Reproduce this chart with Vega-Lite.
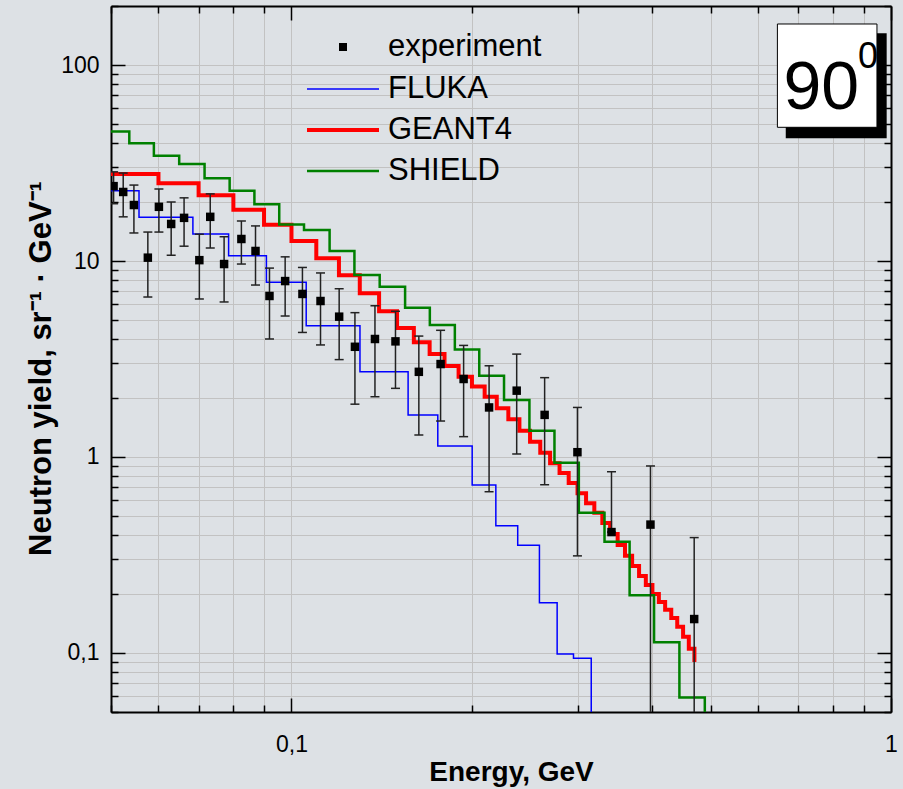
{
  "$schema": "https://vega.github.io/schema/vega-lite/v6.json",
  "width": 780,
  "height": 706,
  "autosize": {"type": "none"},
  "padding": {"left": 111, "top": 6, "right": 12, "bottom": 77},
  "background": "#dde1e5",
  "config": {
    "view": {"stroke": null},
    "font": "Liberation Sans"
  },
  "datasets": {
    "experiment": [
      {"series": "experiment", "E": 0.0505, "y": 24.1, "lo": 19.6, "hi": 28.5},
      {"series": "experiment", "E": 0.0524, "y": 22.5, "lo": 16.8, "hi": 28.1},
      {"series": "experiment", "E": 0.0546, "y": 19.3, "lo": 13.9, "hi": 24.4},
      {"series": "experiment", "E": 0.0576, "y": 10.4, "lo": 6.55, "hi": 14.05},
      {"series": "experiment", "E": 0.0601, "y": 18.9, "lo": 14.05, "hi": 23.3},
      {"series": "experiment", "E": 0.063, "y": 15.45, "lo": 10.7, "hi": 20.0},
      {"series": "experiment", "E": 0.0662, "y": 16.6, "lo": 11.9, "hi": 21.0},
      {"series": "experiment", "E": 0.0702, "y": 10.1, "lo": 6.4, "hi": 13.7},
      {"series": "experiment", "E": 0.0732, "y": 16.8, "lo": 11.65, "hi": 22.0},
      {"series": "experiment", "E": 0.0772, "y": 9.65, "lo": 6.18, "hi": 13.3},
      {"series": "experiment", "E": 0.0825, "y": 12.95, "lo": 9.65, "hi": 16.0},
      {"series": "experiment", "E": 0.0871, "y": 11.25, "lo": 7.54, "hi": 15.1},
      {"series": "experiment", "E": 0.0919, "y": 6.63, "lo": 4.0, "hi": 9.2},
      {"series": "experiment", "E": 0.0976, "y": 7.9, "lo": 5.24, "hi": 10.5},
      {"series": "experiment", "E": 0.1043, "y": 6.79, "lo": 4.32, "hi": 9.27},
      {"series": "experiment", "E": 0.1118, "y": 6.25, "lo": 3.73, "hi": 8.69},
      {"series": "experiment", "E": 0.1201, "y": 5.2, "lo": 3.14, "hi": 7.22},
      {"series": "experiment", "E": 0.1276, "y": 3.65, "lo": 1.86, "hi": 5.45},
      {"series": "experiment", "E": 0.1378, "y": 4.0, "lo": 2.03, "hi": 5.91},
      {"series": "experiment", "E": 0.1491, "y": 3.89, "lo": 2.24, "hi": 5.54},
      {"series": "experiment", "E": 0.1631, "y": 2.72, "lo": 1.295, "hi": 4.14},
      {"series": "experiment", "E": 0.1773, "y": 2.98, "lo": 1.526, "hi": 4.43},
      {"series": "experiment", "E": 0.1937, "y": 2.5, "lo": 1.27, "hi": 3.71},
      {"series": "experiment", "E": 0.2136, "y": 1.79, "lo": 0.665, "hi": 2.92},
      {"series": "experiment", "E": 0.2375, "y": 2.18, "lo": 1.036, "hi": 3.35},
      {"series": "experiment", "E": 0.2644, "y": 1.64, "lo": 0.722, "hi": 2.54},
      {"series": "experiment", "E": 0.2999, "y": 1.058, "lo": 0.313, "hi": 1.79},
      {"series": "experiment", "E": 0.3418, "y": 0.414, "lo": 0.414, "hi": 0.841},
      {"series": "experiment", "E": 0.397, "y": 0.452, "lo": 0.001, "hi": 0.9},
      {"series": "experiment", "E": 0.4696, "y": 0.149, "lo": 0.001, "hi": 0.388}
    ],
    "models": [
      {"series": "FLUKA", "E": 0.05, "v": 22.84},
      {"series": "FLUKA", "E": 0.05568, "v": 16.71},
      {"series": "FLUKA", "E": 0.06848, "v": 13.73},
      {"series": "FLUKA", "E": 0.07855, "v": 10.64},
      {"series": "FLUKA", "E": 0.09082, "v": 7.78},
      {"series": "FLUKA", "E": 0.10582, "v": 4.68},
      {"series": "FLUKA", "E": 0.13009, "v": 2.72},
      {"series": "FLUKA", "E": 0.15651, "v": 1.638},
      {"series": "FLUKA", "E": 0.17541, "v": 1.138},
      {"series": "FLUKA", "E": 0.20017, "v": 0.7195},
      {"series": "FLUKA", "E": 0.21922, "v": 0.4461},
      {"series": "FLUKA", "E": 0.23843, "v": 0.3543},
      {"series": "FLUKA", "E": 0.25917, "v": 0.1806},
      {"series": "FLUKA", "E": 0.27742, "v": 0.0988},
      {"series": "FLUKA", "E": 0.2954, "v": 0.0939},
      {"series": "FLUKA", "E": 0.31623, "v": 0.001},
      {"series": "GEANT4", "E": 0.05, "v": 27.79},
      {"series": "GEANT4", "E": 0.06, "v": 24.91},
      {"series": "GEANT4", "E": 0.07, "v": 21.64},
      {"series": "GEANT4", "E": 0.08, "v": 18.27},
      {"series": "GEANT4", "E": 0.09, "v": 15.32},
      {"series": "GEANT4", "E": 0.1, "v": 12.65},
      {"series": "GEANT4", "E": 0.11, "v": 10.32},
      {"series": "GEANT4", "E": 0.12, "v": 8.45},
      {"series": "GEANT4", "E": 0.13, "v": 6.84},
      {"series": "GEANT4", "E": 0.14, "v": 5.54},
      {"series": "GEANT4", "E": 0.15, "v": 4.55},
      {"series": "GEANT4", "E": 0.16, "v": 3.85},
      {"series": "GEANT4", "E": 0.17, "v": 3.35},
      {"series": "GEANT4", "E": 0.18, "v": 2.91},
      {"series": "GEANT4", "E": 0.19, "v": 2.57},
      {"series": "GEANT4", "E": 0.2, "v": 2.29},
      {"series": "GEANT4", "E": 0.21, "v": 2.03},
      {"series": "GEANT4", "E": 0.22, "v": 1.772},
      {"series": "GEANT4", "E": 0.23, "v": 1.557},
      {"series": "GEANT4", "E": 0.24, "v": 1.362},
      {"series": "GEANT4", "E": 0.25, "v": 1.197},
      {"series": "GEANT4", "E": 0.26, "v": 1.052},
      {"series": "GEANT4", "E": 0.27, "v": 0.929},
      {"series": "GEANT4", "E": 0.28, "v": 0.829},
      {"series": "GEANT4", "E": 0.29, "v": 0.737},
      {"series": "GEANT4", "E": 0.3, "v": 0.653},
      {"series": "GEANT4", "E": 0.31, "v": 0.58},
      {"series": "GEANT4", "E": 0.32, "v": 0.52},
      {"series": "GEANT4", "E": 0.33, "v": 0.46},
      {"series": "GEANT4", "E": 0.34, "v": 0.405},
      {"series": "GEANT4", "E": 0.35, "v": 0.356},
      {"series": "GEANT4", "E": 0.36, "v": 0.313},
      {"series": "GEANT4", "E": 0.37, "v": 0.278},
      {"series": "GEANT4", "E": 0.38, "v": 0.247},
      {"series": "GEANT4", "E": 0.39, "v": 0.222},
      {"series": "GEANT4", "E": 0.4, "v": 0.2},
      {"series": "GEANT4", "E": 0.41, "v": 0.182},
      {"series": "GEANT4", "E": 0.42, "v": 0.166},
      {"series": "GEANT4", "E": 0.43, "v": 0.151},
      {"series": "GEANT4", "E": 0.44, "v": 0.136},
      {"series": "GEANT4", "E": 0.45, "v": 0.121},
      {"series": "GEANT4", "E": 0.46, "v": 0.105},
      {"series": "GEANT4", "E": 0.47, "v": 0.09},
      {"series": "SHIELD", "E": 0.05, "v": 45.79},
      {"series": "SHIELD", "E": 0.05364, "v": 39.85},
      {"series": "SHIELD", "E": 0.05895, "v": 34.45},
      {"series": "SHIELD", "E": 0.06497, "v": 31.25},
      {"series": "SHIELD", "E": 0.07162, "v": 26.42},
      {"series": "SHIELD", "E": 0.07886, "v": 22.81},
      {"series": "SHIELD", "E": 0.08673, "v": 19.49},
      {"series": "SHIELD", "E": 0.09541, "v": 15.36},
      {"series": "SHIELD", "E": 0.10493, "v": 14.39},
      {"series": "SHIELD", "E": 0.11577, "v": 11.25},
      {"series": "SHIELD", "E": 0.12735, "v": 8.48},
      {"series": "SHIELD", "E": 0.14033, "v": 7.39},
      {"series": "SHIELD", "E": 0.15471, "v": 5.78},
      {"series": "SHIELD", "E": 0.17013, "v": 4.71},
      {"series": "SHIELD", "E": 0.18728, "v": 3.54},
      {"series": "SHIELD", "E": 0.20569, "v": 2.6},
      {"series": "SHIELD", "E": 0.22622, "v": 1.953},
      {"series": "SHIELD", "E": 0.2494, "v": 1.362},
      {"series": "SHIELD", "E": 0.27458, "v": 0.935},
      {"series": "SHIELD", "E": 0.30152, "v": 0.52},
      {"series": "SHIELD", "E": 0.33277, "v": 0.37},
      {"series": "SHIELD", "E": 0.36644, "v": 0.197},
      {"series": "SHIELD", "E": 0.40252, "v": 0.1134},
      {"series": "SHIELD", "E": 0.44367, "v": 0.0593},
      {"series": "SHIELD", "E": 0.48914, "v": 0.001}
    ]
  },
  "layer": [
    {
      "data": {"name": "models"},
      "mark": {"type": "line", "interpolate": "step-after", "clip": true},
      "encoding": {
        "x": {"field": "E", "type": "quantitative", "scale": {"type": "log", "domain": [0.05, 1], "nice": false}, "axis": null},
        "y": {"field": "v", "type": "quantitative", "scale": {"type": "log", "domain": [0.05, 200], "nice": false}, "axis": null},
        "color": {
          "field": "series", "type": "nominal",
          "scale": {"domain": ["FLUKA", "GEANT4", "SHIELD"], "range": ["#0000ff", "#ff0000", "#008000"]},
          "legend": {"orient": "none", "legendX": 194, "legendY": 62.5, "title": null, "symbolType": "stroke", "symbolSize": 5184, "labelFontSize": 31, "labelColor": "black", "labelFont": "Liberation Sans", "clipHeight": 41, "rowPadding": 0, "labelOffset": 7, "padding": 0}
        },
        "strokeWidth": {
          "field": "series", "type": "nominal",
          "scale": {"type": "ordinal", "domain": ["FLUKA", "GEANT4", "SHIELD"], "range": [1.5, 4, 2.5]},
          "legend": {"orient": "none", "legendX": 194, "legendY": 62.5, "title": null, "symbolType": "stroke", "symbolSize": 5184, "labelFontSize": 31, "labelColor": "black", "labelFont": "Liberation Sans", "clipHeight": 41, "rowPadding": 0, "labelOffset": 7, "padding": 0}
        }
      }
    },
    {
      "data": {"name": "experiment"},
      "mark": {"type": "rule", "color": "#222222", "strokeWidth": 1.5, "clip": true},
      "encoding": {
        "x": {
          "field": "E", "type": "quantitative",
          "scale": {"type": "log", "domain": [0.05, 1], "nice": false},
          "axis": {
            "orient": "bottom",
            "values": [0.05, 0.06, 0.07, 0.08, 0.09, 0.1, 0.2, 0.3, 0.4, 0.5, 0.6, 0.7, 0.8, 0.9, 1],
            "labelExpr": "datum.value == 0.1 ? '0,1' : (datum.value == 1 ? '1' : '')",
            "labelFontSize": 23, "labelColor": "black", "labelFlush": false, "labelOverlap": false, "labelPadding": 35,
            "tickSize": {"condition": {"test": "datum.value == 0.1 || datum.value == 1", "value": -14}, "value": -7},
            "tickColor": "black", "tickWidth": 1.5,
            "domainColor": "black", "domainWidth": 2,
            "grid": true, "gridColor": "#c2c2c2", "gridWidth": 1,
            "title": "Energy, GeV", "titleFontSize": 28, "titleFontWeight": "bold", "titleColor": "black", "titlePadding": -5, "titleX": 400
          }
        },
        "y": {
          "field": "lo", "type": "quantitative",
          "scale": {"type": "log", "domain": [0.05, 200], "nice": false},
          "axis": {
            "orient": "left",
            "values": [0.05, 0.06, 0.07, 0.08, 0.09, 0.1, 0.2, 0.3, 0.4, 0.5, 0.6, 0.7, 0.8, 0.9, 1, 2, 3, 4, 5, 6, 7, 8, 9, 10, 20, 30, 40, 50, 60, 70, 80, 90, 100, 200],
            "labelExpr": "datum.value == 100 ? '100' : (datum.value == 10 ? '10' : (datum.value == 1 ? '1' : (datum.value == 0.1 ? '0,1' : '')))",
            "labelFontSize": 23, "labelColor": "black", "labelFlush": false, "labelOverlap": false, "labelPadding": 26,
            "tickSize": {"condition": {"test": "datum.value == 0.1 || datum.value == 1 || datum.value == 10 || datum.value == 100", "value": -14}, "value": -7},
            "tickColor": "black", "tickWidth": 1.5,
            "domainColor": "black", "domainWidth": 2,
            "grid": true, "gridColor": "#c2c2c2", "gridWidth": 1,
            "title": "Neutron yield, sr⁻¹ · GeV⁻¹", "titleFontSize": 31, "titleFontWeight": "bold", "titleColor": "black", "titlePadding": 3, "titleY": 362
          }
        },
        "y2": {"field": "hi"}
      }
    },
    {
      "data": {"name": "experiment"},
      "mark": {"type": "tick", "orient": "horizontal", "size": 9, "thickness": 1.5, "color": "#222222", "opacity": 1, "clip": true},
      "encoding": {
        "x": {"field": "E", "type": "quantitative", "scale": {"type": "log", "domain": [0.05, 1], "nice": false}, "axis": null},
        "y": {"field": "hi", "type": "quantitative", "scale": {"type": "log", "domain": [0.05, 200], "nice": false}, "axis": null}
      }
    },
    {
      "data": {"name": "experiment"},
      "mark": {"type": "tick", "orient": "horizontal", "size": 9, "thickness": 1.5, "color": "#222222", "opacity": 1, "clip": true},
      "encoding": {
        "x": {"field": "E", "type": "quantitative", "scale": {"type": "log", "domain": [0.05, 1], "nice": false}, "axis": null},
        "y": {"field": "lo", "type": "quantitative", "scale": {"type": "log", "domain": [0.05, 200], "nice": false}, "axis": null}
      }
    },
    {
      "data": {"name": "experiment"},
      "mark": {"type": "point", "filled": true, "color": "black", "size": 72, "opacity": 1, "clip": true},
      "encoding": {
        "x": {
          "field": "E", "type": "quantitative",
          "scale": {"type": "log", "domain": [0.05, 1], "nice": false},
          "axis": {
            "orient": "top",
            "values": [0.05, 0.06, 0.07, 0.08, 0.09, 0.1, 0.2, 0.3, 0.4, 0.5, 0.6, 0.7, 0.8, 0.9, 1],
            "labels": false,
            "tickSize": {"condition": {"test": "datum.value == 0.1 || datum.value == 1", "value": -14}, "value": -7},
            "tickColor": "black", "tickWidth": 1.5,
            "domainColor": "black", "domainWidth": 2,
            "grid": false, "title": null
          }
        },
        "y": {
          "field": "y", "type": "quantitative",
          "scale": {"type": "log", "domain": [0.05, 200], "nice": false},
          "axis": {
            "orient": "right",
            "values": [0.05, 0.06, 0.07, 0.08, 0.09, 0.1, 0.2, 0.3, 0.4, 0.5, 0.6, 0.7, 0.8, 0.9, 1, 2, 3, 4, 5, 6, 7, 8, 9, 10, 20, 30, 40, 50, 60, 70, 80, 90, 100, 200],
            "labels": false,
            "tickSize": {"condition": {"test": "datum.value == 0.1 || datum.value == 1 || datum.value == 10 || datum.value == 100", "value": -14}, "value": -7},
            "tickColor": "black", "tickWidth": 1.5,
            "domainColor": "black", "domainWidth": 2,
            "grid": false, "title": null
          }
        },
        "shape": {
          "field": "series", "type": "nominal",
          "scale": {"domain": ["experiment"], "range": ["square"]},
          "legend": {"orient": "none", "legendX": 216.5, "legendY": 20.5, "title": null, "symbolSize": 64, "symbolFillColor": "black", "symbolStrokeWidth": 0, "labelFontSize": 31, "labelColor": "black", "labelFont": "Liberation Sans", "clipHeight": 41, "labelOffset": 29.5, "padding": 0}
        }
      }
    },
    {
      "data": {"values": [{}]},
      "mark": {"type": "rect", "color": "black"},
      "encoding": {
        "x": {"datum": 0.6675, "type": "quantitative", "scale": {"type": "log", "domain": [0.05, 1], "nice": false}, "axis": null},
        "x2": {"datum": 0.9835},
        "y": {"datum": 145.1, "type": "quantitative", "scale": {"type": "log", "domain": [0.05, 200], "nice": false}, "axis": null},
        "y2": {"datum": 42.3}
      }
    },
    {
      "data": {"values": [{}]},
      "mark": {"type": "rect", "fill": "white", "stroke": "black", "strokeWidth": 1},
      "encoding": {
        "x": {"datum": 0.6464, "type": "quantitative", "scale": {"type": "log", "domain": [0.05, 1], "nice": false}, "axis": null},
        "x2": {"datum": 0.9475},
        "y": {"datum": 161.9, "type": "quantitative", "scale": {"type": "log", "domain": [0.05, 200], "nice": false}, "axis": null},
        "y2": {"datum": 48.1}
      }
    },
    {
      "data": {"values": [{"label": "90"}]},
      "mark": {"type": "text", "fontSize": 68, "font": "Liberation Sans", "align": "left", "baseline": "alphabetic", "color": "black"},
      "encoding": {
        "text": {"field": "label"},
        "x": {"datum": 0.6616, "type": "quantitative", "scale": {"type": "log", "domain": [0.05, 1], "nice": false}, "axis": null},
        "y": {"datum": 59.6, "type": "quantitative", "scale": {"type": "log", "domain": [0.05, 200], "nice": false}, "axis": null}
      }
    },
    {
      "data": {"values": [{"label": "0"}]},
      "mark": {"type": "text", "fontSize": 36, "font": "Liberation Sans", "align": "left", "baseline": "alphabetic", "color": "black"},
      "encoding": {
        "text": {"field": "label"},
        "x": {"datum": 0.8807, "type": "quantitative", "scale": {"type": "log", "domain": [0.05, 1], "nice": false}, "axis": null},
        "y": {"datum": 96.2, "type": "quantitative", "scale": {"type": "log", "domain": [0.05, 200], "nice": false}, "axis": null}
      }
    }
  ],
  "resolve": {"axis": {"x": "independent", "y": "independent"}}
}
